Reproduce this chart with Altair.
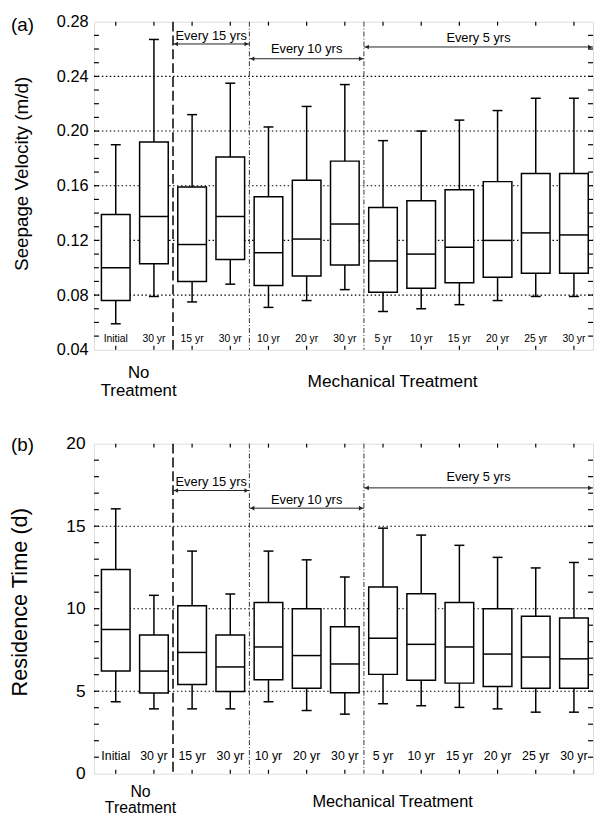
import altair as alt
import pandas as pd

# ---------------- data ----------------
labels = ["Initial", "30 yr", "15 yr", "30 yr", "10 yr", "20 yr", "30 yr",
          "5 yr", "10 yr", "15 yr", "20 yr", "25 yr", "30 yr"]
positions = [1, 2, 3, 4, 5, 6, 7, 8, 9, 10, 11, 12, 13]

# (a) Seepage velocity (m/d)
vel_lo = [0.059, 0.079, 0.075, 0.088, 0.071, 0.076, 0.084, 0.068, 0.070, 0.073, 0.076, 0.079, 0.079]
vel_q1 = [0.076, 0.103, 0.090, 0.106, 0.087, 0.094, 0.102, 0.082, 0.085, 0.089, 0.093, 0.096, 0.096]
vel_med = [0.100, 0.1375, 0.117, 0.1375, 0.111, 0.121, 0.132, 0.105, 0.110, 0.115, 0.120, 0.1255, 0.124]
vel_q3 = [0.139, 0.192, 0.159, 0.181, 0.152, 0.164, 0.178, 0.144, 0.149, 0.157, 0.163, 0.169, 0.169]
vel_hi = [0.190, 0.267, 0.212, 0.235, 0.203, 0.218, 0.234, 0.193, 0.200, 0.208, 0.215, 0.224, 0.224]

# (b) Residence time (d)
res_lo = [4.36, 3.93, 3.93, 3.93, 4.36, 3.83, 3.61, 4.24, 4.12, 4.02, 3.93, 3.73, 3.73]
res_q1 = [6.22, 4.89, 5.41, 4.98, 5.69, 5.18, 4.90, 6.02, 5.67, 5.49, 5.28, 5.18, 5.18]
res_med = [8.74, 6.22, 7.35, 6.47, 7.68, 7.16, 6.65, 8.21, 7.84, 7.68, 7.25, 7.07, 6.96]
res_q3 = [12.38, 8.40, 10.18, 8.40, 10.38, 9.99, 8.91, 11.32, 10.91, 10.38, 9.99, 9.54, 9.44]
res_hi = [16.05, 10.81, 13.49, 10.89, 13.49, 12.96, 11.92, 14.88, 14.46, 13.84, 13.11, 12.47, 12.80]

# group separators
sep_main = [2.5]
sep_minor = [4.5, 7.5]

# treatment interval annotations
interval_text = ["Every 15 yrs", "Every 10 yrs", "Every 5 yrs"]
interval_start = [2.5, 4.5, 7.5]
interval_end = [4.5, 7.5, 13.5]
vel_arrow_y = [0.2637, 0.2529, 0.2615]
vel_text_y = [0.2692, 0.2599, 0.2678]
res_arrow_y = [17.16, 16.09, 17.32]
res_text_y = [17.7, 16.58, 17.95]

# axes
vel_major = [0.04, 0.08, 0.12, 0.16, 0.20, 0.24, 0.28]
vel_grid = [0.08, 0.12, 0.16, 0.20, 0.24]
vel_minor = [0.05, 0.06, 0.07, 0.08, 0.09, 0.10, 0.11, 0.12, 0.13, 0.14, 0.15, 0.16,
             0.17, 0.18, 0.19, 0.20, 0.21, 0.22, 0.23, 0.24, 0.25, 0.26, 0.27]
res_major = [0, 5, 10, 15, 20]
res_grid = [5, 10, 15]
res_minor = [1, 2, 3, 4, 5, 6, 7, 8, 9, 10, 11, 12, 13, 14, 15, 16, 17, 18, 19]

FONT = "Liberation Sans"


def panel(lo, q1, med, q3, hi, ydom, W, H, major, grid, minor, fmt, ytitle,
          title_fs, title_x, title_y, label_fs, label_pad, arrow_y, text_y,
          letter, letter_y, cat_fs, cat_y, no_y, treat_y, mech_y, no_x, mech_x, grp_fs):
    df = pd.DataFrame(dict(pos=positions, label=labels, lo=lo, q1=q1, med=med, q3=q3, hi=hi))
    xs = alt.Scale(domain=[0.43, 13.5], nice=False, zero=False)
    ys = alt.Scale(domain=ydom, nice=False, zero=False)
    yaxis = alt.Axis(values=major, format=fmt, title=ytitle, grid=False, domain=False,
                     ticks=False, tickSize=0, labelFontSize=label_fs, labelPadding=label_pad,
                     labelColor="black", labelFont=FONT, titleFont=FONT,
                     titleFontSize=title_fs, titleFontWeight="normal", titleColor="black",
                     titleX=title_x, titleY=title_y, titleAngle=270,
                     titleAlign="center", titleBaseline="middle")

    def X(f):
        return alt.X(f, type="quantitative", scale=xs, axis=None)

    def Y(f):
        return alt.Y(f, type="quantitative", scale=ys, axis=yaxis)

    base = alt.Chart(df).transform_calculate(
        b0="datum.pos - 0.375", b1="datum.pos + 0.375",
        c0="datum.pos - 0.13", c1="datum.pos + 0.13")

    grid_l = alt.Chart(pd.DataFrame({"g": grid})).mark_rule(
        color="black", strokeWidth=1.1, strokeDash=[1.5, 2.5]).encode(
        y=Y("g"), x=alt.value(0), x2=alt.value(W))

    sep1 = alt.Chart(pd.DataFrame({"s": sep_main})).mark_rule(
        color="black", strokeWidth=1.5, strokeDash=[10, 4]).encode(
        x=X("s"), y=alt.value(0), y2=alt.value(H))
    sep2 = alt.Chart(pd.DataFrame({"s": sep_minor})).mark_rule(
        color="#333333", strokeWidth=1, strokeDash=[5, 2, 1, 2]).encode(
        x=X("s"), y=alt.value(0), y2=alt.value(H))

    whisk = base.mark_rule(color="black", strokeWidth=1.5).encode(
        x=X("pos"), y=Y("lo"), y2="hi:Q")
    cap_hi = base.mark_rule(color="black", strokeWidth=1.5).encode(
        x=X("c0"), x2="c1:Q", y=Y("hi"))
    cap_lo = base.mark_rule(color="black", strokeWidth=1.5).encode(
        x=X("c0"), x2="c1:Q", y=Y("lo"))
    box = base.mark_rect(fill="white", stroke="black", strokeWidth=1.5).encode(
        x=X("b0"), x2="b1:Q", y=Y("q1"), y2="q3:Q")
    median = base.mark_rule(color="black", strokeWidth=1.5).encode(
        x=X("b0"), x2="b1:Q", y=Y("med"))
    cats = base.mark_text(fontSize=cat_fs, font=FONT, color="black", baseline="middle").encode(
        x=X("pos"), y=alt.value(cat_y), text="label:N")

    adf = pd.DataFrame(dict(t=interval_text, s=interval_start, e=interval_end,
                            ay=arrow_y, ty=text_y))
    abase = alt.Chart(adf).transform_calculate(m="(datum.s + datum.e) / 2")
    arrows = abase.mark_rule(color="#222222", strokeWidth=1).encode(
        x=X("s"), x2="e:Q", y=Y("ay"))
    head_l = abase.mark_point(shape="triangle-left", filled=True, size=22, color="#222222",
                              opacity=1, xOffset=3).encode(x=X("s"), y=Y("ay"))
    head_r = abase.mark_point(shape="triangle-right", filled=True, size=22, color="#222222",
                              opacity=1, xOffset=-3).encode(x=X("e"), y=Y("ay"))
    atext = abase.mark_text(fontSize=13, font=FONT, color="black", baseline="middle").encode(
        x=X("m"), y=Y("ty"), text="t:N")

    ltick = alt.Chart(pd.DataFrame({"v": minor})).mark_rule(color="black", strokeWidth=1.2).encode(
        y=Y("v"), x=alt.value(0), x2=alt.value(5))
    rtick = alt.Chart(pd.DataFrame({"v": minor})).mark_rule(color="black", strokeWidth=1.2).encode(
        y=Y("v"), x=alt.value(W - 5), x2=alt.value(W))
    ttick = base.mark_rule(color="black", strokeWidth=1.2).encode(
        x=X("pos"), y=alt.value(0), y2=alt.value(4))
    btick = base.mark_rule(color="black", strokeWidth=1.2).encode(
        x=X("pos"), y=alt.value(H - 4), y2=alt.value(H))

    letter_t = alt.Chart(pd.DataFrame({"t": [letter]})).mark_text(
        fontSize=19, font=FONT, align="left", baseline="middle", color="black").encode(
        text="t:N", x=alt.value(-84), y=alt.value(letter_y))

    grp = pd.DataFrame(dict(t=["No", "Treatment", "Mechanical Treatment"],
                            p=[no_x, no_x, mech_x]))
    no_t = alt.Chart(grp.iloc[[0]]).mark_text(fontSize=grp_fs, font=FONT, baseline="middle",
                                             color="black").encode(
        text="t:N", x=X("p"), y=alt.value(no_y))
    tr_t = alt.Chart(grp.iloc[[1]]).mark_text(fontSize=grp_fs, font=FONT, baseline="middle",
                                             color="black").encode(
        text="t:N", x=X("p"), y=alt.value(treat_y))
    me_t = alt.Chart(grp.iloc[[2]]).mark_text(fontSize=grp_fs + 0.5, font=FONT, baseline="middle",
                                             color="black").encode(
        text="t:N", x=X("p"), y=alt.value(mech_y))

    return alt.layer(grid_l, sep1, sep2, whisk, cap_hi, cap_lo, box, median, cats,
                     arrows, head_l, head_r, atext, ltick, rtick, ttick, btick,
                     letter_t, no_t, tr_t, me_t).properties(width=W, height=H)


top = panel(vel_lo, vel_q1, vel_med, vel_q3, vel_hi, [0.04, 0.28], 505, 332,
            vel_major, vel_grid, vel_minor, ".2f", "Seepage Velocity (m/d)",
            19, -73, 153.5, 16.5, 6, vel_arrow_y, vel_text_y,
            "(a)", 3, 10.5, 321.5, 356, 374, 365, 1.6, 8.25, 17)
bottom = panel(res_lo, res_q1, res_med, res_q3, res_hi, [0, 20], 505, 334,
               res_major, res_grid, res_minor, "d", "Residence Time (d)",
               22, -75, 160, 17.5, 9, res_arrow_y, res_text_y,
               "(b)", 1, 12.5, 316, 353, 369, 363, 1.65, 8.25, 16)

chart = alt.vconcat(top, bottom, spacing=34).properties(
    padding=0
).configure_view(stroke="black", strokeWidth=1.5).configure(font=FONT, padding=0)

chart.save("out.html", embed_options={"renderer": "svg", "actions": False, "padding": 0})
